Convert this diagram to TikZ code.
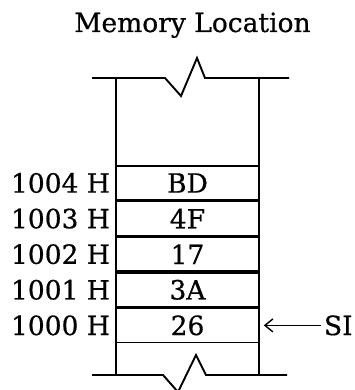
\documentclass[tikz,border=0pt]{standalone}
\usepackage{fontspec}
\setmainfont[FakeBold=0.6]{DejaVu Serif}
\usepackage{tikz}
\usetikzlibrary{positioning, calc, arrows.meta}

\tikzset{
  cell/.style={draw, line width=1.6pt, minimum width=143pt, minimum height=34pt,
               inner sep=0pt, font=\fontsize{26.5}{30}\selectfont},
  addr/.style={inner sep=0pt, font=\fontsize{26.5}{30}\selectfont},
  brk/.style={line width=1.9pt, line join=miter}
}

\begin{document}
\begin{tikzpicture}[x=1pt, y=-1pt]
  \useasboundingbox (0,0) rectangle (354,390);
  % title
  \node[anchor=base, font=\fontsize{26.5}{30}\selectfont] (title) at (192.5,32) {Memory Location};
  % break lines with zigzag
  \coordinate (tl) at (92,78);
  \coordinate (tr) at (289,78);
  \coordinate (bl) at (92,375);
  \coordinate (br) at (287,375);
  \draw[brk] (tl) -- (165,78) -- (181,96) -- (197,58) -- (205,78) -- (tr);
  \draw[brk] (bl) -- (163,375) -- (178,392) -- (196,355) -- (206,375) -- (br);
  % memory cells
  \node[cell] (r4) at (187.5,183) {BD};
  \node[cell, below=0pt of r4] (r3) {4F};
  \node[cell, below=0pt of r3] (r2) {17};
  \node[cell, below=0pt of r2] (r1) {3A};
  \node[cell, below=0pt of r1] (r0) {26};
  % side walls
  \draw[brk] (116,78) -- (116,375);
  \draw[brk] (259,78) -- (259,375);
  % addresses
  \node[addr, left=5pt of r4.west] (a4) {1004 H};
  \node[addr, left=5pt of r3.west] (a3) {1003 H};
  \node[addr, left=5pt of r2.west] (a2) {1002 H};
  \node[addr, left=5pt of r1.west] (a1) {1001 H};
  \node[addr, left=5pt of r0.west] (a0) {1000 H};
  % pointer
  \node[addr, right=64pt of r0.east] (si) {SI};
  \draw[line width=1.4pt, -{Straight Barb[length=8pt, width=13pt]}] ($(si.west)+(-3pt,0)$) -- ($(r0.east)+(4pt,0)$);
\end{tikzpicture}
\end{document}
